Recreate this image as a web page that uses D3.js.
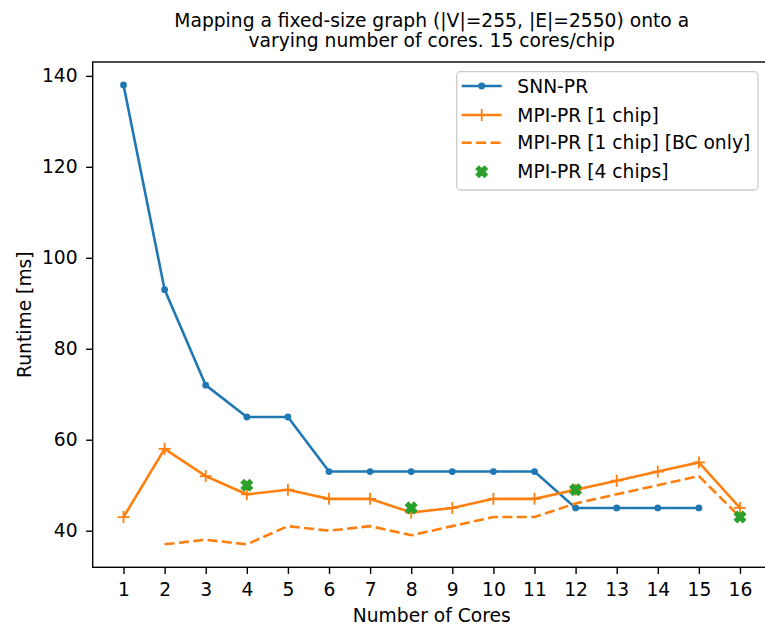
<!DOCTYPE html>
<html><head><meta charset="utf-8">
<script src="https://cdn.jsdelivr.net/npm/d3@7"></script>
<style>
body{margin:0;background:#fff}
svg{display:block}
text{font-family:"DejaVu Sans",sans-serif;fill:#000}
</style>
</head><body><svg id="c" width="765" height="628"></svg>
<script>
// ---- data ----
const cores = [1,2,3,4,5,6,7,8,9,10,11,12,13,14,15,16];
const snnCores = [1,2,3,4,5,6,7,8,9,10,11,12,13,14,15];
const snnPR = [138,93,72,65,65,53,53,53,53,53,53,45,45,45,45];
const mpiCores = [1,2,3,4,5,6,7,8,9,10,11,12,13,14,15,16];
const mpiPR1 = [43,58,52,48,49,47,47,44,45,47,47,49,51,53,55,45];
const bcCores = [2,3,4,5,6,7,8,9,10,11,12,13,14,15,16];
const mpiPR1BC = [37,38,37,41,40,41,39,41,43,43,46,48,50,52,43];
const chip4Cores = [4,8,12,16];
const mpiPR4 = [50,45,49,43];
const yTicks = [40,60,80,100,120,140];
const seriesNames = ["SNN-PR","MPI-PR [1 chip]","MPI-PR [1 chip] [BC only]","MPI-PR [4 chips]"];
const titleLines = ["Mapping a fixed-size graph (|V|=255, |E|=2550) onto a","varying number of cores. 15 cores/chip"];
const xLabel = "Number of Cores";
const yLabel = "Runtime [ms]";

const C_BLUE="#1f77b4", C_ORANGE="#ff7f0e", C_GREEN="#2ca02c";
const FS = 18.7;
const svg = d3.select("#c");
const L=92.7, R=770.8, T=62, B=567.3;
const x = d3.scaleLinear().domain([0.25,16.75]).range([L,R]);
const y = d3.scaleLinear().domain([31.95,143.05]).range([B,T]);

// axes
const xa = svg.append("g").attr("transform",`translate(0,${B})`)
  .call(d3.axisBottom(x).tickValues(cores).tickFormat(d3.format("d")).tickSize(6.6).tickPadding(8.5).tickSizeOuter(0));
const ya = svg.append("g").attr("transform",`translate(${L},0)`)
  .call(d3.axisLeft(y).tickValues(yTicks).tickFormat(d3.format("d")).tickSize(6.6).tickPadding(8.5).tickSizeOuter(0));
[xa,ya].forEach(g=>{
  g.select(".domain").remove();
  g.selectAll(".tick line").attr("stroke","#000").attr("stroke-width",1.4);
  g.selectAll(".tick text").attr("font-size",FS).attr("font-family","DejaVu Sans").attr("fill","#000");
});
// spines
svg.append("rect").attr("x",L).attr("y",T).attr("width",R-L).attr("height",B-T)
  .attr("fill","none").attr("stroke","#000").attr("stroke-width",1.4);

// lines
const line = d3.line();
function pts(xs,ys){return xs.map((d,i)=>[x(d),y(ys[i])]);}
const g = svg.append("g");
g.append("path").attr("d",line(pts(snnCores,snnPR))).attr("fill","none").attr("stroke",C_BLUE).attr("stroke-width",2.6);
g.selectAll(".snn").data(pts(snnCores,snnPR)).enter().append("circle")
  .attr("cx",d=>d[0]).attr("cy",d=>d[1]).attr("r",3.4).attr("fill",C_BLUE);
g.append("path").attr("d",line(pts(mpiCores,mpiPR1))).attr("fill","none").attr("stroke",C_ORANGE).attr("stroke-width",2.6);
function plusPath(cx,cy,s){return `M${cx-s},${cy}H${cx+s}M${cx},${cy-s}V${cy+s}`;}
g.selectAll(".mpi").data(pts(mpiCores,mpiPR1)).enter().append("path")
  .attr("d",d=>plusPath(d[0],d[1],6)).attr("stroke",C_ORANGE).attr("stroke-width",1.8).attr("fill","none");
g.append("path").attr("d",line(pts(bcCores,mpiPR1BC))).attr("fill","none").attr("stroke",C_ORANGE)
  .attr("stroke-width",2.6).attr("stroke-dasharray","10,4.4");
const xsym = d3.symbol().type(d3.symbolCross).size(74);
g.selectAll(".c4").data(pts(chip4Cores,mpiPR4)).enter().append("path")
  .attr("d",xsym).attr("transform",d=>`translate(${d[0]},${d[1]}) rotate(45)`)
  .attr("fill",C_GREEN).attr("stroke",C_GREEN).attr("stroke-width",1.6).attr("stroke-linejoin","miter");

// title
svg.append("text").attr("x",(L+R)/2).attr("y",27.3).attr("text-anchor","middle").attr("font-size",FS)
  .selectAll("tspan").data(titleLines).enter().append("tspan")
  .attr("x",(L+R)/2).attr("dy",(d,i)=>i?20:0).text(d=>d);

// axis labels
svg.append("text").attr("x",(L+R)/2).attr("y",621.5).attr("text-anchor","middle").attr("font-size",FS).text(xLabel);
svg.append("text").attr("transform",`translate(31,${(T+B)/2}) rotate(-90)`).attr("text-anchor","middle").attr("font-size",FS).text(yLabel);

// legend
const lg = svg.append("g");
lg.append("rect").attr("x",456.7).attr("y",71.7).attr("width",301.3).attr("height",118.3).attr("rx",4)
  .attr("fill","#fff").attr("fill-opacity",0.8).attr("stroke","#cccccc").attr("stroke-width",1.3);
const rows = [86,115,142.7,171.7];
const hx0=461.7, hx1=501.7, hc=481.7;
lg.append("line").attr("x1",hx0).attr("x2",hx1).attr("y1",rows[0]).attr("y2",rows[0]).attr("stroke",C_BLUE).attr("stroke-width",2.6);
lg.append("circle").attr("cx",hc).attr("cy",rows[0]).attr("r",3.4).attr("fill",C_BLUE);
lg.append("line").attr("x1",hx0).attr("x2",hx1).attr("y1",rows[1]).attr("y2",rows[1]).attr("stroke",C_ORANGE).attr("stroke-width",2.6);
lg.append("path").attr("d",plusPath(hc,rows[1],6)).attr("stroke",C_ORANGE).attr("stroke-width",1.8);
lg.append("line").attr("x1",hx0).attr("x2",hx1).attr("y1",rows[2]).attr("y2",rows[2]).attr("stroke",C_ORANGE).attr("stroke-width",2.6).attr("stroke-dasharray","10,4.4");
lg.append("path").attr("d",xsym).attr("transform",`translate(${hc},${rows[3]}) rotate(45)`)
  .attr("fill",C_GREEN).attr("stroke",C_GREEN).attr("stroke-width",1.6);
lg.selectAll(".lt").data(seriesNames).enter().append("text")
  .attr("x",517.3).attr("y",(d,i)=>rows[i]+6.6).attr("font-size",FS).text(d=>d);
</script>
</body></html>
